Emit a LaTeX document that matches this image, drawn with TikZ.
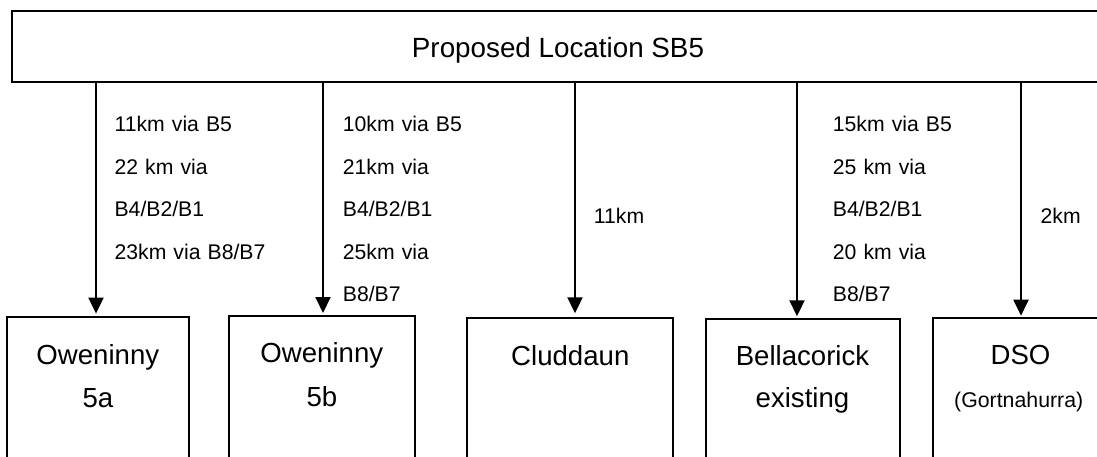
\documentclass[tikz,border=0pt]{standalone}
\usepackage{fontspec}
\setmainfont{Liberation Sans}
\usetikzlibrary{arrows.meta}
\begin{document}
\begin{tikzpicture}[x=1pt,y=-1pt,
  frame/.style={draw=black, line width=2pt, rectangle, inner sep=0pt, outer sep=0pt, anchor=north west},
  conn/.style={line width=2pt, -{Triangle[width=15pt,length=16pt]}},
  dist/.style={anchor=base west, inner sep=0pt, align=left, text width=180pt, font=\fontsize{21.2}{42.5}\selectfont},
  big/.style={anchor=base, inner sep=0pt, font=\fontsize{27.6}{33}\selectfont},
  small/.style={anchor=base, inner sep=0pt, font=\fontsize{21.3}{25}\selectfont}]
\useasboundingbox (0,0) rectangle (1097,457);
\clip (0,0) rectangle (1097,457);
% top box
\node[frame, minimum width=1092pt, minimum height=71pt] (top) at (12,11) {};
\node[anchor=base, inner sep=0pt, font=\fontsize{27.8}{33}\selectfont] (title) at (558,57.3) {Proposed Location SB5};
% destination boxes
\node[frame, minimum width=182pt, minimum height=200pt] (b1) at (7,317) {};
\node[frame, minimum width=186pt, minimum height=200pt] (b2) at (229,316) {};
\node[frame, minimum width=206pt, minimum height=200pt] (b3) at (467,318) {};
\node[frame, minimum width=194pt, minimum height=200pt] (b4) at (706,319) {};
\node[frame, minimum width=174pt, minimum height=200pt] (b5) at (933,318) {};
% box texts
\node[big] (n1a) at (97.85,364) {Oweninny};
\node[big] (n1b) at (97.85,407.3) {5a};
\node[big] (n2a) at (321.85,362.7) {Oweninny};
\node[big] (n2b) at (321.85,406.7) {5b};
\node[big] (n3) at (570.3,365) {Cluddaun};
\node[big] (n4a) at (802.5,365) {Bellacorick};
\node[big] (n4b) at (802.5,407.5) {existing};
\node[big] (n5a) at (1020.5,364.3) {DSO};
\node[small] (n5b) at (1018.7,407) {(Gortnahurra)};
% arrow x positions
\coordinate (x1) at (96,0);
\coordinate (x2) at (323,0);
\coordinate (x3) at (575,0);
\coordinate (x4) at (797,0);
\coordinate (x5) at (1021,0);
\draw[conn, shorten >=3.4pt] (top.south -| x1) -- (b1.north -| x1);
\draw[conn, shorten >=3pt] (top.south -| x2) -- (b2.north -| x2);
\draw[conn, shorten >=4.7pt] (top.south -| x3) -- (b3.north -| x3);
\draw[conn, shorten >=2.7pt] (top.south -| x4) -- (b4.north -| x4);
\draw[conn, shorten >=2.3pt] (top.south -| x5) -- (b5.north -| x5);
% distance labels
\node[dist] (d1) at (114.4,131.7) {11km via B5\\22 km via\\B4/B2/B1\\23km via B8/B7};
\node[dist] (d2) at (342.7,131.7) {10km via B5\\21km via\\B4/B2/B1\\25km via\\B8/B7};
\node[dist] (d3) at (593.7,223.5) {11km};
\node[dist] (d4) at (832.7,131.7) {15km via B5\\25 km via\\B4/B2/B1\\20 km via\\B8/B7};
\node[dist] (d5) at (1040.4,223) {2km};
\end{tikzpicture}
\end{document}
